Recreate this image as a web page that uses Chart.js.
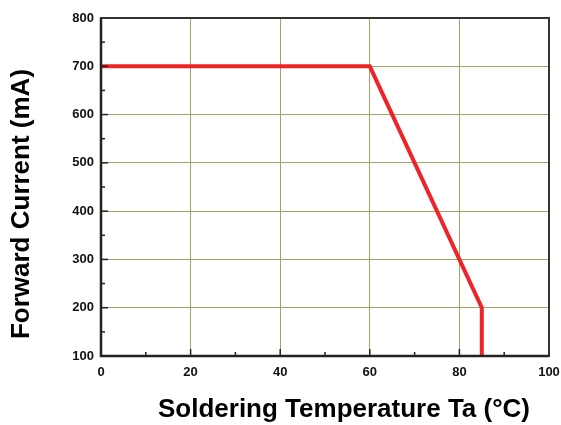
<!DOCTYPE html>
<html lang="en">
<head>
    <meta charset="UTF-8">
    <title>Forward Current vs Soldering Temperature</title>
    <script src="https://cdn.jsdelivr.net/npm/chart.js"></script>
    <style>
        html, body { margin: 0; padding: 0; background: #fff; }
        #wrap { width: 561px; height: 425px; }
    </style>
</head>
<body>
    <div id="wrap"><canvas id="myChart"></canvas></div>

    <script>
        // derating curve
        const tempValues = [0, 60, 85, 85];
        const currentValues = [700, 700, 200, 100];
        const xTicks = [0, 20, 40, 60, 80, 100];
        const yTicks = [100, 200, 300, 400, 500, 600, 700, 800];

        const gridColor = '#a3a366';

        // inward minor/major tick marks and axis titles
        const decoPlugin = {
            id: 'deco',
            afterDraw(chart) {
                const ctx = chart.ctx;
                const x = chart.scales.x, y = chart.scales.y;
                const a = chart.chartArea;
                ctx.save();
                ctx.strokeStyle = '#222';
                ctx.lineWidth = 1.5;
                for (let v = 10; v < 100; v += 10) {
                    const px = x.getPixelForValue(v);
                    const len = v % 20 === 0 ? 7 : 4;
                    ctx.beginPath();
                    ctx.moveTo(px, a.bottom);
                    ctx.lineTo(px, a.bottom - len);
                    ctx.stroke();
                }
                for (let v = 150; v < 800; v += 50) {
                    const py = y.getPixelForValue(v);
                    const len = v % 100 === 0 ? 7 : 4;
                    ctx.beginPath();
                    ctx.moveTo(a.left, py);
                    ctx.lineTo(a.left + len, py);
                    ctx.stroke();
                }
                // frame
                ctx.strokeStyle = '#333';
                ctx.lineWidth = 2;
                ctx.strokeRect(a.left, a.top, a.right - a.left, a.bottom - a.top);
                ctx.strokeStyle = '#222';
                ctx.lineWidth = 2.5;
                ctx.beginPath();
                ctx.moveTo(a.left, a.top);
                ctx.lineTo(a.left, a.bottom);
                ctx.lineTo(a.right, a.bottom);
                ctx.stroke();

                ctx.fillStyle = '#000';
                ctx.font = 'bold 26px "Liberation Sans", Arial, sans-serif';
                ctx.textAlign = 'center';
                ctx.textBaseline = 'middle';
                ctx.fillText('Soldering Temperature Ta (°C)', 344, 410);
                ctx.translate(22, 204);
                ctx.rotate(-Math.PI / 2);
                ctx.fillText('Forward Current (mA)', 0, 0);
                ctx.restore();
            }
        };

        const ctx = document.getElementById('myChart').getContext('2d');
        new Chart(ctx, {
            type: 'line',
            data: {
                datasets: [{
                    data: tempValues.map((t, i) => ({ x: t, y: currentValues[i] })),
                    borderColor: '#ee2428',
                    borderWidth: 4,
                    pointRadius: 0,
                    fill: false,
                    tension: 0
                }]
            },
            options: {
                responsive: true,
                maintainAspectRatio: false,
                animation: false,
                layout: { padding: { top: 18, right: 12, left: 0, bottom: 0 } },
                plugins: { legend: { display: false }, tooltip: { enabled: false } },
                scales: {
                    x: {
                        type: 'linear',
                        min: 0, max: 100,
                        afterBuildTicks: s => { s.ticks = xTicks.map(v => ({ value: v })); },
                        afterFit: s => { s.height = 69; s.paddingLeft = 0; s.paddingRight = 0; },
                        grid: { color: gridColor, lineWidth: 1, drawTicks: false },
                        border: { display: false },
                        ticks: {
                            color: '#111',
                            padding: 9,
                            maxRotation: 0,
                            font: { family: '"Liberation Sans", Arial', size: 13, weight: 'bold' }
                        }
                    },
                    y: {
                        type: 'linear',
                        min: 100, max: 800,
                        afterBuildTicks: s => { s.ticks = yTicks.map(v => ({ value: v })); },
                        afterFit: s => { s.width = 101; s.paddingTop = 0; s.paddingBottom = 0; },
                        grid: { color: gridColor, lineWidth: 1, drawTicks: false },
                        border: { display: false },
                        ticks: {
                            color: '#111',
                            padding: 7,
                            font: { family: '"Liberation Sans", Arial', size: 13, weight: 'bold' }
                        }
                    }
                }
            },
            plugins: [decoPlugin]
        });
    </script>
</body>
</html>
